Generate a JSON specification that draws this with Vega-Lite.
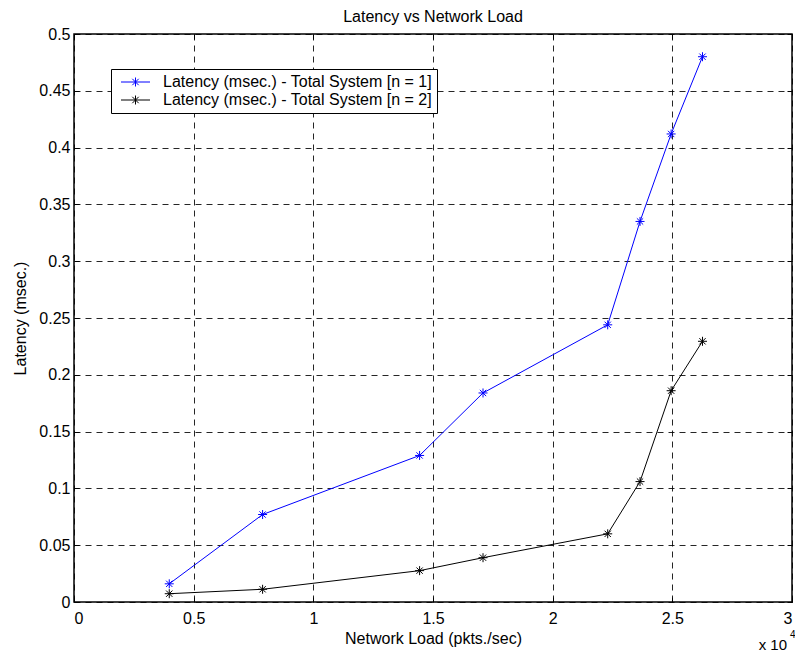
{
  "$schema": "https://vega.github.io/schema/vega-lite/v6.json",
  "width": 718,
  "height": 568,
  "autosize": {"type": "none"},
  "padding": {"left": 74, "top": 34, "right": 3, "bottom": 50},
  "background": "white",
  "title": {
    "text": "Latency vs Network Load",
    "font": "Liberation Sans",
    "fontSize": 16,
    "fontWeight": "normal",
    "color": "black",
    "anchor": "middle",
    "frame": "group",
    "baseline": "alphabetic",
    "offset": 11,
    "dy": 23
  },
  "config": {
    "view": {"stroke": "black", "strokeWidth": 1.5},
    "axis": {
      "labelFont": "Liberation Sans",
      "labelFontSize": 16,
      "labelFontWeight": "normal",
      "labelColor": "black",
      "titleFont": "Liberation Sans",
      "titleFontSize": 16,
      "titleFontWeight": "normal",
      "titleColor": "black",
      "domain": false,
      "ticks": true,
      "tickColor": "black",
      "tickWidth": 1,
      "tickSize": -5,
      "grid": true,
      "gridColor": "black",
      "gridDash": [6, 5],
      "gridWidth": 1,
      "gridOpacity": 0.85
    }
  },
  "resolve": {"axis": {"x": "independent", "y": "independent"}},
  "layer": [
    {
      "data": {
        "values": [
          {"load": 3980, "latency": 0.016, "series": "Latency (msec.) - Total System [n = 1]"},
          {"load": 7880, "latency": 0.077, "series": "Latency (msec.) - Total System [n = 1]"},
          {"load": 14440, "latency": 0.129, "series": "Latency (msec.) - Total System [n = 1]"},
          {"load": 17090, "latency": 0.184, "series": "Latency (msec.) - Total System [n = 1]"},
          {"load": 22300, "latency": 0.244, "series": "Latency (msec.) - Total System [n = 1]"},
          {"load": 23650, "latency": 0.335, "series": "Latency (msec.) - Total System [n = 1]"},
          {"load": 24950, "latency": 0.412, "series": "Latency (msec.) - Total System [n = 1]"},
          {"load": 26260, "latency": 0.480, "series": "Latency (msec.) - Total System [n = 1]"},
          {"load": 3980, "latency": 0.0073, "series": "Latency (msec.) - Total System [n = 2]"},
          {"load": 7880, "latency": 0.0112, "series": "Latency (msec.) - Total System [n = 2]"},
          {"load": 14440, "latency": 0.0276, "series": "Latency (msec.) - Total System [n = 2]"},
          {"load": 17090, "latency": 0.039, "series": "Latency (msec.) - Total System [n = 2]"},
          {"load": 22300, "latency": 0.060, "series": "Latency (msec.) - Total System [n = 2]"},
          {"load": 23650, "latency": 0.106, "series": "Latency (msec.) - Total System [n = 2]"},
          {"load": 24950, "latency": 0.186, "series": "Latency (msec.) - Total System [n = 2]"},
          {"load": 26260, "latency": 0.2295, "series": "Latency (msec.) - Total System [n = 2]"}
        ]
      },
      "encoding": {
        "x": {
          "field": "load",
          "type": "quantitative",
          "scale": {"domain": [0, 30000], "nice": false, "zero": false},
          "axis": {
            "title": "Network Load (pkts./sec)",
            "values": [0, 5000, 10000, 15000, 20000, 25000, 30000],
            "labelExpr": "datum.value / 10000",
            "labelPadding": 13,
            "titlePadding": 4
          }
        },
        "y": {
          "field": "latency",
          "type": "quantitative",
          "scale": {"domain": [0, 0.5], "nice": false},
          "axis": {
            "title": "Latency (msec.)",
            "values": [0, 0.05, 0.1, 0.15, 0.2, 0.25, 0.3, 0.35, 0.4, 0.45, 0.5],
            "format": "~g",
            "labelPadding": 9,
            "titlePadding": 10
          }
        }
      },
      "layer": [
        {
          "mark": {"type": "line", "strokeWidth": 1},
          "encoding": {
            "color": {
              "field": "series",
              "type": "nominal",
              "scale": {"range": ["#0000ff", "#000000"]},
              "legend": {
                "title": null,
                "orient": "none",
                "legendX": 37,
                "legendY": 35,
                "direction": "vertical",
                "fillColor": "white",
                "strokeColor": "black",
                "padding": 5,
                "rowPadding": 2,
                "labelFont": "Liberation Sans",
                "labelFontSize": 16,
                "labelFontWeight": "normal",
                "labelColor": "black",
                "labelOffset": 19.5,
                "labelLimit": 400,
                "symbolType": "M-2.9,0H2.9M0,-0.9V0.9M-0.64,-0.64L0.64,0.64M-0.64,0.64L0.64,-0.64",
                "symbolSize": 100,
                "symbolStrokeWidth": 1,
                "symbolFillColor": "transparent",
                "symbolOffset": 11.5
              }
            }
          }
        },
        {
          "mark": {
            "type": "point",
            "shape": "M-1,0H1M0,-1V1M-0.7,-0.7L0.7,0.7M-0.7,0.7L0.7,-0.7",
            "size": 81,
            "filled": false,
            "strokeWidth": 1,
            "opacity": 1
          },
          "encoding": {
            "color": {"field": "series", "type": "nominal", "legend": null}
          }
        }
      ]
    },
    {
      "data": {"values": [{"label": "x 10"}]},
      "mark": {"type": "text", "font": "Liberation Sans", "fontSize": 15, "fontWeight": "normal", "align": "right", "baseline": "alphabetic", "dx": -5, "dy": 48, "color": "black"},
      "encoding": {
        "text": {"field": "label"},
        "x": {
          "datum": 30000,
          "type": "quantitative",
          "axis": {"orient": "top", "values": [0, 5000, 10000, 15000, 20000, 25000, 30000], "labels": false, "grid": false, "title": null}
        },
        "y": {"datum": 0, "type": "quantitative", "axis": null}
      }
    },
    {
      "data": {"values": [{"label": "4"}]},
      "mark": {"type": "text", "font": "Liberation Sans", "fontSize": 10, "fontWeight": "normal", "align": "left", "baseline": "alphabetic", "dx": -2, "dy": 36, "color": "black"},
      "encoding": {
        "text": {"field": "label"},
        "x": {"datum": 30000, "type": "quantitative", "axis": null},
        "y": {
          "datum": 0,
          "type": "quantitative",
          "axis": {"orient": "right", "values": [0, 0.05, 0.1, 0.15, 0.2, 0.25, 0.3, 0.35, 0.4, 0.45, 0.5], "labels": false, "grid": false, "title": null}
        }
      }
    }
  ]
}
